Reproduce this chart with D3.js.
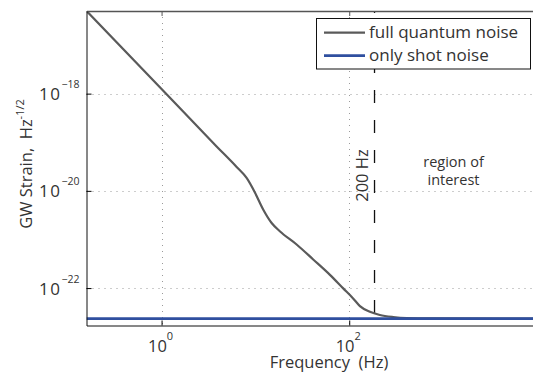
<!DOCTYPE html>
<html>
<head>
<meta charset="utf-8">
<script src="https://cdn.jsdelivr.net/npm/d3@7"></script>
<style>
  html, body { margin: 0; padding: 0; background: #fff; }
  svg { display: block; }
  text { font-family: "Open Sans", "Noto Sans", sans-serif; fill: #333; }
</style>
</head>
<body>
<svg id="chart" width="533" height="372"></svg>
<script>
// ---- data ----
const frequency = [0.158, 1, 3.86, 6.31, 8.06, 9.88, 12.1, 14.9, 18.2, 27.5, 41.3, 62.3, 86.3, 110, 130, 166, 212, 294, 409, 724, 10000];
const fullQuantumNoise = [5.07e-17, 1.25e-18, 8.2e-20, 3.1e-20, 1.84e-20, 9.25e-21, 4.14e-21, 2.18e-21, 1.48e-21, 7.89e-22, 3.88e-22, 1.87e-22, 9.85e-23, 6.13e-23, 4.25e-23, 3.24e-23, 2.79e-23, 2.53e-23, 2.41e-23, 2.37e-23, 2.35e-23];
const shotFrequency = [0.158, 10000];
const onlyShotNoise = [2.35e-23, 2.35e-23];
const seriesNames = ["full quantum noise", "only shot noise"];
const xTickValues = [1, 100];
const xTickExponents = ["0", "2"];
const yTickValues = [1e-18, 1e-20, 1e-22];
const yTickExponents = ["\u221218", "\u221220", "\u221222"];
const markerFrequency = [186];
const markerLabel = "200 Hz";
const regionLabel = ["region of", "interest"];

// ---- layout ----
const pL = 86.5, pR = 536.9, pT = 11, pB = 325.5, visRight = 533;
const svg = d3.select("#chart");
const x = d3.scaleLog().domain([Math.pow(10, -0.8), 1e4]).range([pL, pR]);
const y = d3.scaleLog().domain([Math.pow(10, -22.77), Math.pow(10, -16.3)]).range([pB, pT]);

svg.append("defs").append("clipPath").attr("id", "clip")
  .append("rect").attr("x", pL).attr("y", pT).attr("width", visRight - pL).attr("height", pB - pT);

// grid
const grid = svg.append("g").attr("stroke", "#9a9a9a").attr("stroke-width", 1).attr("stroke-dasharray", "1,5");
grid.selectAll("line.vx").data(xTickValues).join("line").attr("class", "vx")
  .attr("x1", d => Math.round(x(d)) + 0.5).attr("x2", d => Math.round(x(d)) + 0.5)
  .attr("y1", pT).attr("y2", pB);
grid.selectAll("line.hy").data(yTickValues).join("line").attr("class", "hy")
  .attr("x1", pL).attr("x2", visRight)
  .attr("y1", d => Math.round(y(d)) + 0.5).attr("y2", d => Math.round(y(d)) + 0.5);

// 200 Hz marker
svg.append("g").selectAll("line").data(markerFrequency).join("line")
  .attr("x1", d => x(d)).attr("x2", d => x(d))
  .attr("y1", pT).attr("y2", pB)
  .attr("stroke", "#111").attr("stroke-width", 1.3).attr("stroke-dasharray", "13,17")
  .attr("stroke-dashoffset", 11);

// curves
const line = d3.line().x(d => x(d[0])).y(d => y(d[1])).curve(d3.curveMonotoneX);
const plot = svg.append("g").attr("clip-path", "url(#clip)");
plot.append("path").datum(frequency.map((f, i) => [f, fullQuantumNoise[i]]))
  .attr("d", line).attr("fill", "none").attr("stroke", "#5a5a5a").attr("stroke-width", 2.2);
plot.append("path").datum(shotFrequency.map((f, i) => [f, onlyShotNoise[i]]))
  .attr("d", line).attr("fill", "none").attr("stroke", "#2f4f9f").attr("stroke-width", 2.8);

// axes
const xAxis = d3.axisBottom(x).tickValues(xTickValues).tickSizeInner(-5).tickSizeOuter(0).tickFormat("");
svg.append("g").attr("transform", `translate(0,${pB})`).call(xAxis)
  .call(g => g.select(".domain").attr("stroke", "#111"));
const xTop = d3.axisTop(x).tickValues(xTickValues).tickSizeInner(-5).tickSizeOuter(0).tickFormat("");
svg.append("g").attr("transform", `translate(0,${pT})`).call(xTop)
  .call(g => g.select(".domain").attr("stroke", "#555").attr("stroke-width", 1.5))
  .call(g => g.selectAll(".tick line").attr("stroke", "#555"));
const yAxis = d3.axisLeft(y).tickValues(yTickValues).tickSizeInner(-5).tickSizeOuter(0).tickFormat("");
svg.append("g").attr("transform", `translate(${pL},0)`).call(yAxis)
  .call(g => g.select(".domain").attr("stroke", "#111"));

// tick labels
svg.append("g").selectAll("text").data(xTickValues).join("text")
  .attr("x", d => x(d) - 1).attr("y", 351.5).attr("text-anchor", "middle").attr("font-size", 16.5)
  .each(function(d, i) {
    const t = d3.select(this);
    t.append("tspan").text("10");
    t.append("tspan").attr("font-size", 11).attr("dy", -12).text(xTickExponents[i]);
  });
svg.append("g").selectAll("text").data(yTickValues).join("text")
  .attr("x", 39).attr("y", d => y(d) + 6.5).attr("font-size", 17)
  .each(function(d, i) {
    const t = d3.select(this);
    t.append("tspan").attr("letter-spacing", 1.5).text("10");
    t.append("tspan").attr("font-size", 10.5).attr("dy", -12).attr("dx", 0).text(yTickExponents[i]);
  });

// axis titles
svg.append("text").attr("x", 329).attr("y", 367.5).attr("text-anchor", "middle").attr("font-size", 16.5)
  .style("white-space", "pre").text("Frequency  (Hz)");
const yt = svg.append("text").attr("transform", "translate(31.5,164) rotate(-90)")
  .attr("text-anchor", "middle").attr("font-size", 16.5).style("white-space", "pre");
yt.append("tspan").text("GW Strain,  Hz");
yt.append("tspan").attr("font-size", 11).attr("dy", -8).text("-1/2");

// annotations
svg.append("text").attr("transform", `translate(${x(markerFrequency[0]) - 7},175.5) rotate(-90)`)
  .attr("text-anchor", "middle").attr("font-size", 16.5).text(markerLabel);
svg.append("g").selectAll("text").data(regionLabel).join("text")
  .attr("x", 453.5).attr("y", (d, i) => 166.5 + i * 18.5).attr("text-anchor", "middle").attr("font-size", 14.5)
  .text(d => d);

// legend
const lg = svg.append("g");
lg.append("rect").attr("x", 316.5).attr("y", 18.5).attr("width", 214).attr("height", 50.5)
  .attr("fill", "#fff").attr("stroke", "#111").attr("stroke-width", 1);
const legendColors = ["#5a5a5a", "#2f4f9f"];
const legendWidths = [2.2, 2.8];
seriesNames.forEach((name, i) => {
  const cy = 32.7 + i * 23;
  lg.append("line").attr("x1", 324).attr("x2", 365).attr("y1", cy).attr("y2", cy)
    .attr("stroke", legendColors[i]).attr("stroke-width", legendWidths[i]);
  lg.append("text").attr("x", 369).attr("y", cy + 5.5).attr("font-size", 17).text(name);
});
</script>
</body>
</html>
